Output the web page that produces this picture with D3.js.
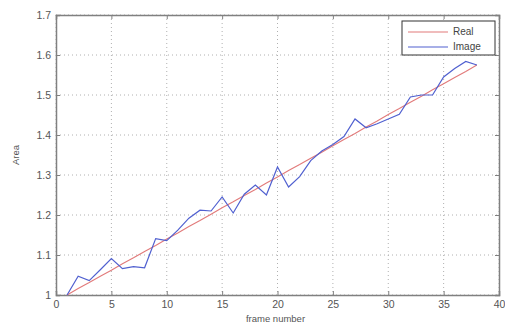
<!DOCTYPE html>
<html>
<head>
<meta charset="utf-8">
<script src="https://cdn.jsdelivr.net/npm/d3@7"></script>
<style>
  body { margin: 0; background: #fff; }
  text { font-family: "Liberation Sans", Arial, sans-serif; }
</style>
</head>
<body>
<div id="chart"></div>
<script>
// frame numbers and the two area series
var frames = d3.range(1, 39);
var realArea = [1.000, 1.016, 1.031, 1.047, 1.062, 1.078, 1.093, 1.109, 1.124, 1.140,
                1.155, 1.171, 1.186, 1.202, 1.218, 1.233, 1.249, 1.264, 1.280, 1.295,
                1.311, 1.326, 1.342, 1.357, 1.373, 1.389, 1.404, 1.420, 1.435, 1.451,
                1.466, 1.482, 1.497, 1.513, 1.528, 1.544, 1.559, 1.575];
var imageArea = [1.000, 1.047, 1.036, 1.063, 1.091, 1.066, 1.071, 1.068, 1.141, 1.136,
                 1.162, 1.192, 1.212, 1.210, 1.245, 1.205, 1.252, 1.275, 1.250, 1.320,
                 1.270, 1.296, 1.336, 1.360, 1.376, 1.396, 1.440, 1.418, 1.428, 1.440,
                 1.452, 1.495, 1.500, 1.500, 1.545, 1.566, 1.584, 1.575];
var xTicks = [0, 5, 10, 15, 20, 25, 30, 35, 40];
var yTicks = [1, 1.1, 1.2, 1.3, 1.4, 1.5, 1.6, 1.7];
var legendNames = ["Real", "Image"];

var width = 505, height = 327;
var margin = {top: 15, right: 6, bottom: 32, left: 56};
var w = width - margin.left - margin.right;
var h = height - margin.top - margin.bottom;

var svg = d3.select("#chart").append("svg")
    .attr("width", width)
    .attr("height", height);

var g = svg.append("g")
    .attr("transform", "translate(" + margin.left + "," + margin.top + ")");

var x = d3.scaleLinear().domain([0, 40]).range([0, w]);
var y = d3.scaleLinear().domain([1, 1.7]).range([h, 0]);

// dotted grid
g.selectAll(".gx").data(xTicks).enter().append("line")
    .attr("x1", function(d){ return x(d); })
    .attr("x2", function(d){ return x(d); })
    .attr("y1", 0).attr("y2", h)
    .attr("stroke", "#b0b0b0")
    .attr("stroke-dasharray", "1,3");
g.selectAll(".gy").data(yTicks).enter().append("line")
    .attr("y1", function(d){ return y(d); })
    .attr("y2", function(d){ return y(d); })
    .attr("x1", 0).attr("x2", w)
    .attr("stroke", "#b0b0b0")
    .attr("stroke-dasharray", "1,3");

// axes, ticks inward
var xAxis = g.append("g").attr("transform", "translate(0," + h + ")")
    .call(d3.axisBottom(x).tickValues(xTicks).tickSize(-4).tickPadding(6).tickFormat(d3.format("d")));
var yAxis = g.append("g")
    .call(d3.axisLeft(y).tickValues(yTicks).tickSize(-4).tickPadding(5).tickFormat(function(d){ return d == 1 ? "1" : d3.format(".1f")(d); }));
g.append("g")
    .call(d3.axisTop(x).tickValues(xTicks).tickSize(-4).tickFormat(""));
g.append("g").attr("transform", "translate(" + w + ",0)")
    .call(d3.axisRight(y).tickValues(yTicks).tickSize(-4).tickFormat(""));

g.selectAll(".domain").attr("stroke", "#808080").attr("stroke-width", 1.5);
g.selectAll(".tick line").attr("stroke", "#808080");
g.selectAll(".tick text").attr("fill", "#555").style("font-size", "10.5px");

// lines
var line = d3.line()
    .x(function(d, i){ return x(frames[i]); })
    .y(function(d){ return y(d); });

g.append("path").datum(realArea)
    .attr("d", line)
    .attr("fill", "none")
    .attr("stroke", "#e27a7a")
    .attr("stroke-width", 1.1);

g.append("path").datum(imageArea)
    .attr("d", line)
    .attr("fill", "none")
    .attr("stroke", "#5060d0")
    .attr("stroke-width", 1.2);

// axis labels
svg.append("text")
    .attr("x", margin.left + w / 2 - 2)
    .attr("y", 322)
    .attr("text-anchor", "middle")
    .attr("fill", "#555")
    .style("font-size", "9.5px")
    .text("frame number");

svg.append("text")
    .attr("transform", "translate(19," + (margin.top + h / 2) + ") rotate(-90)")
    .attr("text-anchor", "middle")
    .attr("fill", "#555")
    .style("font-size", "9.5px")
    .text("Area");

// legend
var legend = svg.append("g").attr("transform", "translate(402,21)");
legend.append("rect")
    .attr("width", 93).attr("height", 34)
    .attr("fill", "#fff")
    .attr("stroke", "#333")
    .attr("stroke-width", 1);
var legendColors = ["#e27a7a", "#5060d0"];
legendNames.forEach(function(name, i){
    legend.append("line")
        .attr("x1", 6).attr("x2", 46)
        .attr("y1", 11 + i * 15).attr("y2", 11 + i * 15)
        .attr("stroke", legendColors[i])
        .attr("stroke-width", 1.2);
    legend.append("text")
        .attr("x", 51).attr("y", 14 + i * 15)
        .attr("fill", "#444")
        .style("font-size", "10px")
        .text(name);
});
</script>
</body>
</html>
